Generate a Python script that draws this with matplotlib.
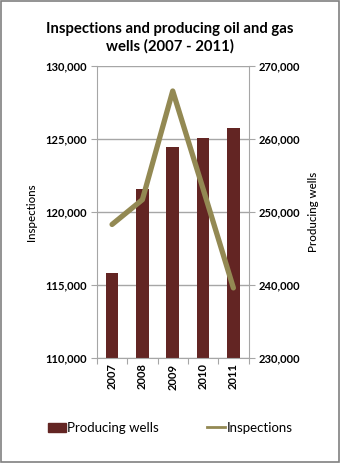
import numpy as np
import matplotlib
matplotlib.use('Agg')
from matplotlib import pyplot as plt
from matplotlib.patches import Rectangle
from matplotlib.ticker import FuncFormatter

years = ['2007', '2008', '2009', '2010', '2011']
producing_wells = [241600, 253100, 258900, 260200, 261500]
inspections = [119150, 120850, 128300, 121600, 114800]

bar_color = '#632523'
line_color = '#938953'
grid_color = '#a6a6a6'

plt.rcParams['font.family'] = ['Lato', 'DejaVu Sans']

fig = plt.figure(figsize=(3.4, 4.63), dpi=100)
ax = fig.add_axes([0.285, 0.227, 0.446, 0.630])
ax2 = ax.twinx()

x = np.arange(len(years))
fmt = FuncFormatter(lambda v, p: '{:,.0f}'.format(v))

# bars on right axis, line on left axis (line drawn above bars)
ax2.bar(x, producing_wells, width=0.42, color=bar_color, zorder=2)
ax.set_zorder(ax2.get_zorder() + 1)
ax.patch.set_visible(False)
ax.plot(x, inspections, color=line_color, lw=3.8, solid_capstyle='round', zorder=3)

ax.set_xlim(-0.5, len(years) - 0.5)
ax.set_ylim(110000, 130000)
ax.set_yticks(np.arange(110000, 130001, 5000))
ax2.set_ylim(230000, 270000)
ax2.set_yticks(np.arange(230000, 270001, 10000))
ax.yaxis.set_major_formatter(fmt)
ax2.yaxis.set_major_formatter(fmt)

ax2.yaxis.grid(True, color=grid_color, lw=1.0, zorder=0)
ax2.set_axisbelow(True)

ax.set_xticks(np.arange(-0.5, len(years), 1.0), minor=False)
ax.set_xticklabels([])
ax.set_xticks(x, minor=True)
ax.set_xticklabels(years, minor=True, rotation=90, fontsize=8, fontweight='bold')
ax.tick_params(axis='x', which='major', length=4, color=grid_color, direction='out')
ax.tick_params(axis='x', which='minor', length=0, pad=4)
ax.tick_params(axis='y', length=4, color=grid_color, labelsize=8, pad=3)
ax2.tick_params(axis='y', length=4, color=grid_color, labelsize=8, pad=3)
for lab in ax.get_yticklabels() + ax2.get_yticklabels():
    lab.set_fontweight('bold')

for a in (ax, ax2):
    for s in a.spines.values():
        s.set_visible(False)
ax.spines['left'].set_visible(True)
ax.spines['left'].set_color(grid_color)
ax.spines['bottom'].set_visible(True)
ax.spines['bottom'].set_color(grid_color)
ax2.spines['right'].set_visible(True)
ax2.spines['right'].set_color(grid_color)

ax.set_ylabel('Inspections', fontsize=8.3, labelpad=6, fontweight='medium')
ax2.set_ylabel('Producing wells', fontsize=8.3, labelpad=6, fontweight='medium')

fig.suptitle('Inspections and producing oil and gas\nwells (2007 - 2011)',
             fontsize=10.7, fontweight='bold', y=0.952, linespacing=1.25)

h1 = Rectangle((0, 0), 1, 1, color=bar_color)
h2 = plt.Line2D([], [], color=line_color, lw=2.0)
fig.legend([h1, h2], ['Producing wells', 'Inspections'], loc='center',
           bbox_to_anchor=(0.5, 0.076), ncol=2, frameon=False, fontsize=9.5,
           handlelength=1.4, handletextpad=0.1, columnspacing=3.6)

fig.patches.append(Rectangle((0.002, 0.002), 0.995, 0.995, transform=fig.transFigure,
                             fill=False, edgecolor='#808080', lw=1.2))

fig.savefig('out.png', dpi=100)
